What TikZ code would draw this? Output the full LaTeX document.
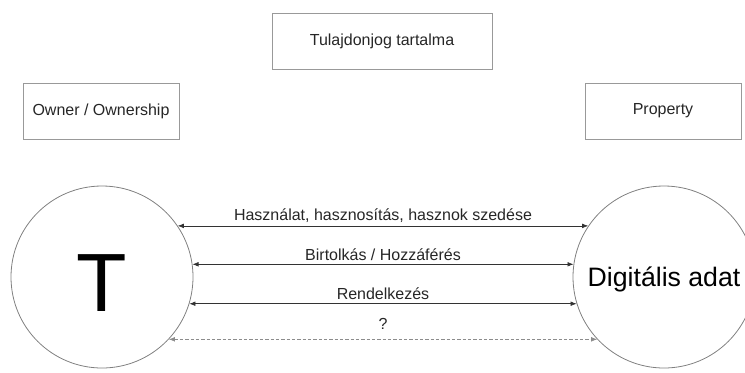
\documentclass[tikz,border=0pt]{standalone}
\usepackage{fontspec}
\setmainfont{Liberation Sans}
\usetikzlibrary{arrows.meta}

\begin{document}
\begin{tikzpicture}[x = 0.75pt, y = -0.75pt,
        box/.style = {draw = black!40, line width = 0.6pt, minimum height = 42pt, text = black!85, font = \fontsize{12}{14}\selectfont},
        party/.style = {draw = black!50, circle, line width = 0.6pt, minimum size = 136.5pt, inner sep = 0pt},
        rel/.style = {{Latex[length = 4.5pt, width = 3.5pt]}-{Latex[length = 4.5pt, width = 3.5pt]}, line width = 0.5pt, draw = black!80},
        lbl/.style = {midway, above = 2.5pt, inner sep = 0pt, text = black!85, font = \fontsize{12}{14}\selectfont}]
            \useasboundingbox (0, 0) rectangle (745, 372);
            % boxes
            \node [box, minimum width = 165pt] (content) at (382, 41) {Tulajdonjog tartalma};
            \node [box, minimum width = 117pt] (owner) at (101, 111) {Owner / Ownership};
            \node [box, minimum width = 117pt] (property) at (663, 111) {Property};
            % the two sides
            \node [party, text height = 52pt, text depth = 0pt, font = \fontsize{62}{62}\selectfont] (holder) at (102, 277) {T};
            \node [party, text depth = 0pt, font = \fontsize{20}{24}\selectfont] (data) at (664, 277) {Digitális adat};
            % relations
            \draw [rel] (holder.34) -- (data.146) node [lbl] {Használat, hasznosítás, hasznok szedése};
            \draw [rel] (holder.8) -- (data.172) node [lbl] {Birtolkás / Hozzáférés};
            \draw [rel] (holder.-17) -- (data.197) node [lbl] {Rendelkezés};
            \draw [rel, dash pattern = on 2.5pt off 1.5pt, draw = black!45] (holder.-43) -- (data.223) node [lbl, above = 5pt] {?};
        \end{tikzpicture}
\end{document}
